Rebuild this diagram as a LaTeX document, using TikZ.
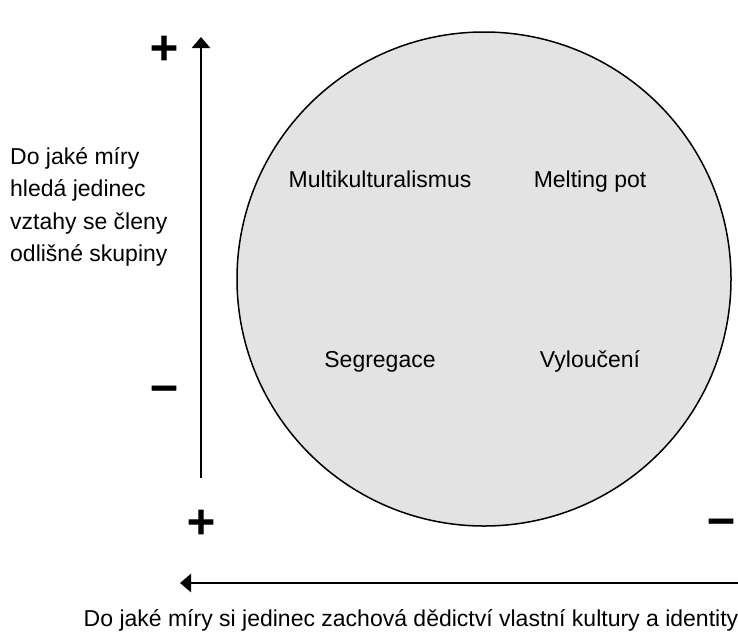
\documentclass[tikz,border=0pt]{standalone}
\usepackage{fontspec}
\setmainfont{Liberation Sans}
\newfontfamily\signfont{DejaVu Sans}[BoldFeatures={FakeBold=2}]
\usetikzlibrary{arrows.meta}
\definecolor{circfill}{HTML}{E3E3E3}
\begin{document}
\begin{tikzpicture}[x=1pt,y=-1pt,
  lbl/.style={inner sep=0pt, font=\fontsize{23}{28}\selectfont},
  sign/.style={inner sep=0pt, font=\signfont\bfseries\fontsize{38}{40}\selectfont},
  axis/.style={line width=2.5pt, -{Triangle[width=18pt,length=11pt]}}]
\useasboundingbox (0,0) rectangle (738,632);
% circle
\node[circle, draw, line width=1.5pt, fill=circfill, minimum size=494pt, inner sep=0pt] (c) at (484,279) {};
% quadrant labels
\node[lbl, anchor=base] (multi) at (380,187) {Multikulturalismus};
\node[lbl, anchor=base] (melt) at (590,187) {Melting pot};
\node[lbl, anchor=base] (segr) at (380,367) {Segregace};
\node[lbl, anchor=base] (vylo) at (590,367) {Vyloučení};
% axes
\coordinate (vs) at (201,478);
\coordinate (ve) at (201,37);
\draw[axis] (vs) -- (ve);
\coordinate (hs) at (738,583);
\coordinate (he) at (180,583);
\draw[axis] (hs) -- (he);
% signs
\node[sign] (ptop) at (164,48) {+};
\node[sign] (mleft) at (164,393) {−};
\node[sign] (pbot) at (201,522) {+};
\node[sign] (mright) at (721,526) {−};
% axis labels
\node[lbl, anchor=base west] (l1) at (10,164) {Do jaké míry};
\node[lbl, anchor=base west] (l2) at (10,196.5) {hledá jedinec};
\node[lbl, anchor=base west] (l3) at (10,229) {vztahy se členy};
\node[lbl, anchor=base west] (l4) at (10,261.5) {odlišné skupiny};
\node[lbl, anchor=base] (bottom) at (411,626) {Do jaké míry si jedinec zachová dědictví vlastní kultury a identity};
\end{tikzpicture}
\end{document}
